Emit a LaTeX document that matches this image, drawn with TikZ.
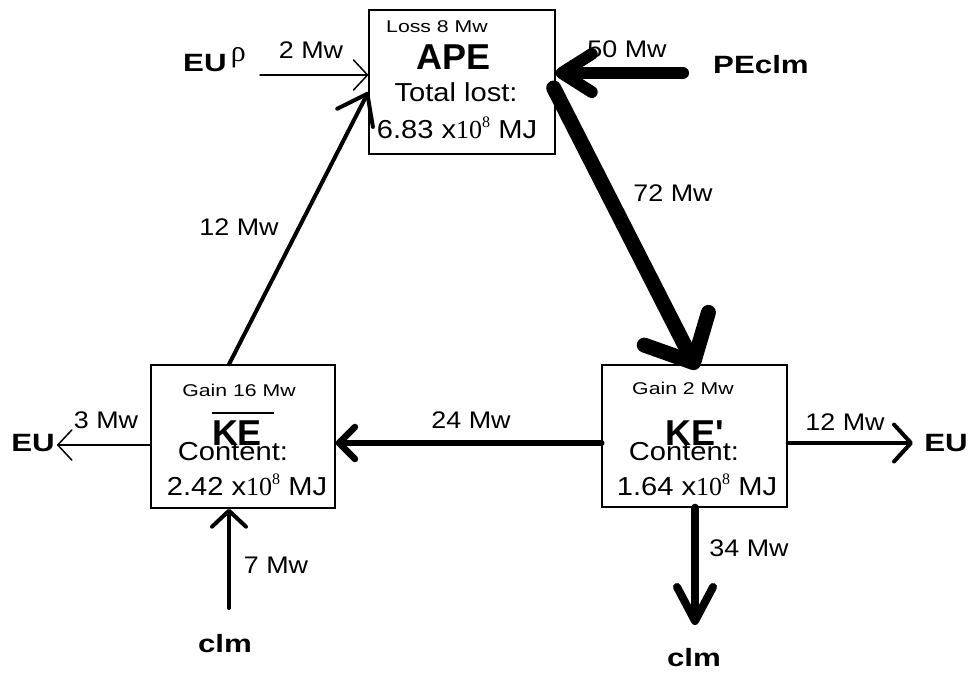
\documentclass[tikz,border=0pt]{standalone}
\usepackage{fontspec}
\setmainfont{Liberation Sans}
\newfontfamily\wfont[FakeStretch=1.12]{Liberation Sans}
\newfontfamily\wwfont[FakeStretch=1.25]{Liberation Sans}
\newfontfamily\serf{Liberation Serif}
\newcommand{\tenpow}{{\serf 10\raisebox{0.42em}{\fontsize{16}{16}\selectfont 8}}}
\usetikzlibrary{arrows.meta}
\begin{document}
\begin{tikzpicture}[x=1pt,y=-1pt,
  boxnode/.style={draw, line width=1.4pt, inner sep=0pt},
  lbl/.style={inner sep=0pt, font=\wfont\fontsize{24}{24}\selectfont},
  sml/.style={inner sep=0pt, font=\wwfont\fontsize{17}{17}\selectfont},
  big/.style={inner sep=0pt, font=\bfseries\fontsize{36}{36}\selectfont},
  mid/.style={inner sep=0pt, font=\wfont\fontsize{26}{26}\selectfont},
  bld/.style={inner sep=0pt, font=\wwfont\bfseries\fontsize{25}{25}\selectfont},
  flow/.style={draw, line cap=round, line join=round}
]
\useasboundingbox (0,0) rectangle (974,675);
% boxes
\node[boxnode, minimum width=186pt, minimum height=144pt] (apebox) at (462,82) {};
\node[boxnode, minimum width=184pt, minimum height=143pt] (kebox) at (243,436.5) {};
\node[boxnode, minimum width=185pt, minimum height=142pt] (kepbox) at (694.5,436) {};
% APE texts
\node[sml] (loss) at (437,27) {Loss 8 Mw};
\node[big] (ape) at (454,57) {APE};
\node[mid] (tlost) at (456,92) {Total lost:};
\node[mid] (apeval) at (457,128) {6.83 x\tenpow\ MJ};
% KE texts
\node[sml] (gain16) at (239,390) {Gain 16 Mw};
\node[big] (ke) at (243,429) {\vbox{\hrule height 1.6pt width 62pt \vskip 7pt \hbox{\bfseries KE}}};
\node[mid] (kecont) at (233,452) {Content:};
\node[mid] (keval) at (247,485) {2.42 x\tenpow\ MJ};
% KE' texts
\node[sml] (gain2) at (683,388) {Gain 2 Mw};
\node[big] (kep) at (695,433) {KE\textquotesingle};
\node[mid] (kepcont) at (684,452) {Content:};
\node[mid] (kepval) at (697,485) {1.64 x\tenpow\ MJ};
% outside labels
\node[bld, anchor=west] (eurho) at (183,60) {EU\,\raisebox{0.4em}{\serf\mdseries\fontsize{30}{30}\selectfont ρ}};
\node[bld] (peclm) at (761,65) {PEclm};
\node[bld] (euleft) at (33,443) {EU};
\node[bld] (euright) at (946,443) {EU};
\node[bld] (clmleft) at (225,644) {clm};
\node[bld] (clmright) at (694,658) {clm};
% flow labels
\node[lbl] (l2) at (311,50) {2 Mw};
\node[lbl] (l50) at (627,49) {50 Mw};
\node[lbl] (l12a) at (239,227) {12 Mw};
\node[lbl] (l72) at (673,193) {72 Mw};
\node[lbl] (l24) at (471,420) {24 Mw};
\node[lbl] (l3) at (106,420) {3 Mw};
\node[lbl] (l12b) at (845,422) {12 Mw};
\node[lbl] (l7) at (276,565) {7 Mw};
\node[lbl] (l34) at (749,548) {34 Mw};
% free ends
\coordinate (srcrho) at (260,75);
\coordinate (srcpe) at (683,73);
\coordinate (tipeul) at (57,445);
\coordinate (tipeur) at (913,443);
\coordinate (srcclm) at (229,608);
\coordinate (tipclm) at (695,625);
% connectors
\draw[flow, line width=1.5pt, -{Straight Barb[length=14pt,width=30pt,round]}]
  (srcrho) -- (apebox.west |- srcrho);
\draw[flow, line width=12pt, -{Straight Barb[length=30pt,width=38pt,round]}]
  (srcpe) -- (apebox.east |- srcpe);
\draw[flow, line width=4pt, -{Straight Barb[length=27pt,width=40pt,round]}]
  (kebox.north -| srcclm) -- ([yshift=-10pt]apebox.west);
\draw[flow, line width=15pt, -{Straight Barb[length=38pt,width=72pt,round]}]
  ([xshift=-2pt,yshift=-6pt]apebox.east) -- ([xshift=2.5pt,yshift=-5pt]kepbox.north);
\draw[flow, line width=6.5pt, -{Straight Barb[length=16pt,width=32pt,round]}]
  ([yshift=-7pt]kepbox.west) -- ([yshift=-6.5pt]kebox.east);
\draw[flow, line width=1.5pt, -{Straight Barb[length=14pt,width=30pt,round]}]
  ([yshift=-8.5pt]kebox.west) -- (tipeul);
\draw[flow, line width=4pt, -{Straight Barb[length=17pt,width=37pt,round]}]
  ([yshift=-7pt]kepbox.east) -- (tipeur);
\draw[flow, line width=4pt, -{Straight Barb[length=16pt,width=34pt,round]}]
  (srcclm) -- (kebox.south -| srcclm);
\draw[flow, line width=8pt, -{Straight Barb[length=34pt,width=36pt,round]}]
  (kepbox.south -| tipclm) -- (tipclm);
\end{tikzpicture}
\end{document}
